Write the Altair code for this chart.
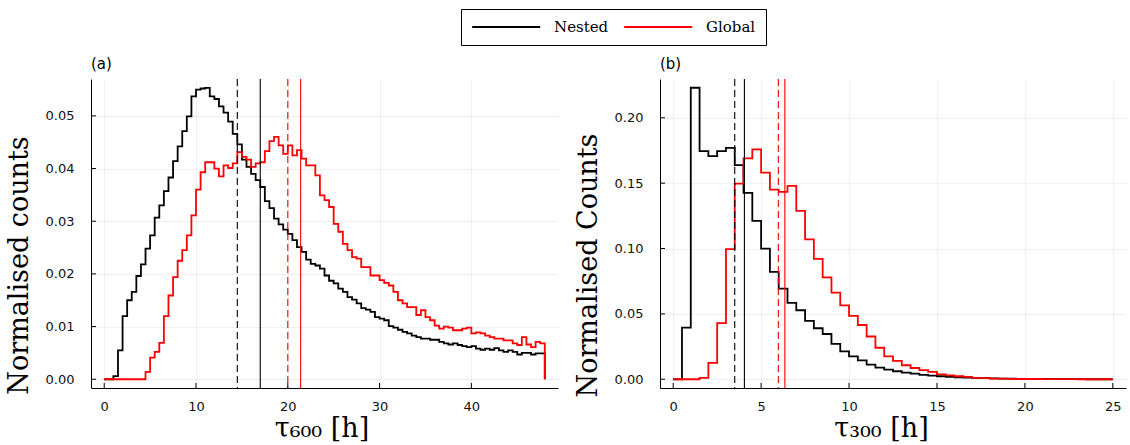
import altair as alt
import pandas as pd

BIN = 0.5
SERIES = ["Nested", "Global"]
COLORS = ["black", "red"]

# ---- panel (a): tau_600, bins of 0.5 h from 0 to 48 ----
a_nested = [
    0, 0, 0.0006, 0.0055, 0.012, 0.015, 0.0166, 0.0196, 0.0218, 0.0248,
    0.0273, 0.0307, 0.033, 0.0357, 0.0383, 0.0414, 0.0442, 0.0471, 0.0499, 0.0537,
    0.055, 0.0552, 0.0553, 0.0537, 0.0532, 0.0518, 0.0506, 0.0489, 0.0466, 0.0446,
    0.0417, 0.0403, 0.039, 0.0378, 0.0365, 0.0338, 0.0325, 0.0305, 0.0294, 0.0284,
    0.0276, 0.0264, 0.0251, 0.0242, 0.0227, 0.0219, 0.0216, 0.021, 0.0197, 0.0187,
    0.0182, 0.0172, 0.0166, 0.0156, 0.0151, 0.0144, 0.0135, 0.0132, 0.0128, 0.0118,
    0.0115, 0.0112, 0.0101, 0.0098, 0.0094, 0.009, 0.0087, 0.0083, 0.008, 0.0077,
    0.0077, 0.0075, 0.0075, 0.0071, 0.0068, 0.0066, 0.0068, 0.0065, 0.0063, 0.0061,
    0.0063, 0.0058, 0.0056, 0.0058, 0.0056, 0.0059, 0.0055, 0.0052, 0.0055, 0.0052,
    0.0047, 0.005, 0.005, 0.0047, 0.0049, 0.0049,
]
a_global = [
    0, 0, 0, 0, 0, 0, 0, 0, 0, 0.0014,
    0.0041, 0.0052, 0.0069, 0.012, 0.0159, 0.0194, 0.0225, 0.0245, 0.0273, 0.0311,
    0.036, 0.0393, 0.0412, 0.0412, 0.04, 0.0385, 0.0406, 0.0401, 0.041, 0.0431,
    0.0422, 0.0417, 0.0403, 0.041, 0.0412, 0.0433, 0.0452, 0.046, 0.0444, 0.0428,
    0.0444, 0.0425, 0.0435, 0.0419, 0.0406, 0.0406, 0.0387, 0.0349, 0.034, 0.0327,
    0.0295, 0.028, 0.0257, 0.0245, 0.0232, 0.0229, 0.0213, 0.0213, 0.0197, 0.0197,
    0.0188, 0.0183, 0.0178, 0.0166, 0.015, 0.0144, 0.0137, 0.0137, 0.0122, 0.0131,
    0.0118, 0.0112, 0.0102, 0.0096, 0.01, 0.0098, 0.0093, 0.0093, 0.0096, 0.0098,
    0.0087, 0.0089, 0.0087, 0.0083, 0.008, 0.0077, 0.0077, 0.0074, 0.0074, 0.0068,
    0.0065, 0.008, 0.0066, 0.0061, 0.0071, 0.0068,
]
a_median = [14.5, 20.0]   # dashed (Nested, Global)
a_mean = [17.0, 21.4]     # solid  (Nested, Global)
a_xticks = [0, 10, 20, 30, 40]
a_yticks = [0.00, 0.01, 0.02, 0.03, 0.04, 0.05]
a_xdomain = [-1.44, 49.44]
a_ydomain = [-0.00166, 0.0570]

# ---- panel (b): tau_300, bins of 0.5 h from 0 to 25 ----
b_nested = [
    0, 0.0395, 0.223, 0.1745, 0.1707, 0.1745, 0.177, 0.1638, 0.1426, 0.1212,
    0.1, 0.0821, 0.0694, 0.0584, 0.0528, 0.0446, 0.039, 0.0346, 0.027, 0.0213,
    0.0175, 0.0145, 0.0112, 0.0089, 0.0074, 0.0061, 0.0051, 0.0043, 0.0033, 0.0028,
    0.0023, 0.0018, 0.0015, 0.0013, 0.001, 0.0008, 0.0006, 0.0005, 0.0004, 0.0003,
    0.0003, 0.0002, 0.0002, 0.0001, 0.0001, 0.0001, 0.0001, 0, 0, 0,
]
b_global = [
    0, 0, 0, 0.001, 0.0125, 0.043, 0.0995, 0.1497, 0.169, 0.1758,
    0.158, 0.145, 0.1434, 0.148, 0.1288, 0.107, 0.0921, 0.0779, 0.0662, 0.0565,
    0.0485, 0.0415, 0.0327, 0.0241, 0.0175, 0.014, 0.0107, 0.0086, 0.0069, 0.0056,
    0.0038, 0.003, 0.0023, 0.0018, 0.001, 0.0008, 0.0005, 0.0004, 0.0003, 0.0002,
    0.0002, 0.0002, 0.0001, 0.0001, 0.0001, 0.0001, 0, 0, 0, 0,
]
b_median = [3.5, 5.98]
b_mean = [4.05, 6.35]
b_xticks = [0, 5, 10, 15, 20, 25]
b_yticks = [0.00, 0.05, 0.10, 0.15, 0.20]
b_xdomain = [-0.75, 25.75]
b_ydomain = [-0.0067, 0.2297]

W_A, W_B, H = 467, 466, 309
SANS = "DejaVu Sans"
SERIF = "DejaVu Serif"


def hist_frame(values, series):
    rows = [{"x": i * BIN, "y": v, "series": series} for i, v in enumerate(values)]
    rows.append({"x": len(values) * BIN, "y": 0.0, "series": series})
    return pd.DataFrame(rows)


def panel(nested, glob, median, mean, xticks, yticks, xdom, ydom, width,
          xtitle, ytitle, label, show_legend, xtitle_shift):
    color_scale = alt.Scale(domain=SERIES, range=COLORS)
    xs = alt.Scale(domain=xdom, nice=False, zero=False)
    ys = alt.Scale(domain=ydom, nice=False, zero=False)
    xaxis = alt.Axis(values=xticks, format="d", title=xtitle, tickSize=0,
                     labelPadding=12, titlePadding=2,
                     titleX=width / 2 + xtitle_shift)
    yaxis = alt.Axis(values=yticks, format=".2f", title=ytitle, tickSize=0,
                     labelPadding=17, titlePadding=12, titleY=186)
    if show_legend:
        legend = alt.Legend(title=None, orient="none", direction="horizontal",
                            legendX=370, legendY=-70)
    else:
        legend = None

    layers = []
    for vals, name, first in [(nested, "Nested", True), (glob, "Global", False)]:
        df = hist_frame(vals, name)
        enc = dict(
            x=alt.X("x:Q", scale=xs, axis=xaxis),
            y=alt.Y("y:Q", scale=ys, axis=yaxis),
            color=alt.Color("series:N", scale=color_scale,
                            legend=legend if first else None),
        )
        layers.append(
            alt.Chart(df).mark_line(interpolate="step-after", strokeWidth=1.8)
            .encode(**enc)
        )

    med_df = pd.DataFrame({"x": median, "series": SERIES})
    mean_df = pd.DataFrame({"x": mean, "series": SERIES})
    layers.append(
        alt.Chart(med_df).mark_rule(strokeDash=[7, 4], strokeWidth=1.1)
        .encode(x=alt.X("x:Q", scale=xs),
                color=alt.Color("series:N", scale=color_scale, legend=None))
    )
    layers.append(
        alt.Chart(mean_df).mark_rule(strokeWidth=1.1)
        .encode(x=alt.X("x:Q", scale=xs),
                color=alt.Color("series:N", scale=color_scale, legend=None))
    )
    # inward tick marks
    xt_df = pd.DataFrame({"t": xticks})
    yt_df = pd.DataFrame({"t": yticks})
    layers.append(
        alt.Chart(xt_df).mark_rule(color="black", strokeWidth=1)
        .encode(x=alt.X("t:Q", scale=xs), y=alt.value(H), y2=alt.value(H - 5))
    )
    layers.append(
        alt.Chart(yt_df).mark_rule(color="black", strokeWidth=1)
        .encode(y=alt.Y("t:Q", scale=ys), x=alt.value(0), x2=alt.value(5))
    )

    return alt.layer(*layers).properties(
        width=width, height=H,
        title=alt.TitleParams(label, anchor="start", frame="group", font=SANS,
                              fontSize=15, fontWeight="normal", offset=6,
                              color="black"),
    )


left = panel(a_nested, a_global, a_median, a_mean, a_xticks, a_yticks,
             a_xdomain, a_ydomain, W_A, "τ₆₀₀  [h]", "Normalised counts", "(a)",
             True, -3)
right = panel(b_nested, b_global, b_median, b_mean, b_xticks, b_yticks,
              b_xdomain, b_ydomain, W_B, "τ₃₀₀  [h]", "Normalised Counts", "(b)",
              False, -12)

chart = alt.hconcat(left, right, spacing=16).properties(
    padding={"left": 5, "top": 8, "right": 3, "bottom": 2}
).configure_view(stroke=None).configure_axis(
    domainColor="black", domainWidth=1,
    gridColor="#000000", gridOpacity=0.1, gridWidth=0.6,
    labelFont=SANS, labelFontSize=13, labelColor="#111111",
    titleFont=SERIF, titleFontSize=27, titleFontWeight="normal", titleColor="black",
).configure_legend(
    strokeColor="black", fillColor="white", padding=10,
    symbolType="M-1,0H9", symbolSize=185, symbolStrokeWidth=2,
    labelFont=SERIF, labelFontSize=15, labelColor="black",
    labelOffset=67, columnPadding=11, cornerRadius=0,
)

chart.save("out.html", embed_options={"renderer": "svg", "actions": False})
